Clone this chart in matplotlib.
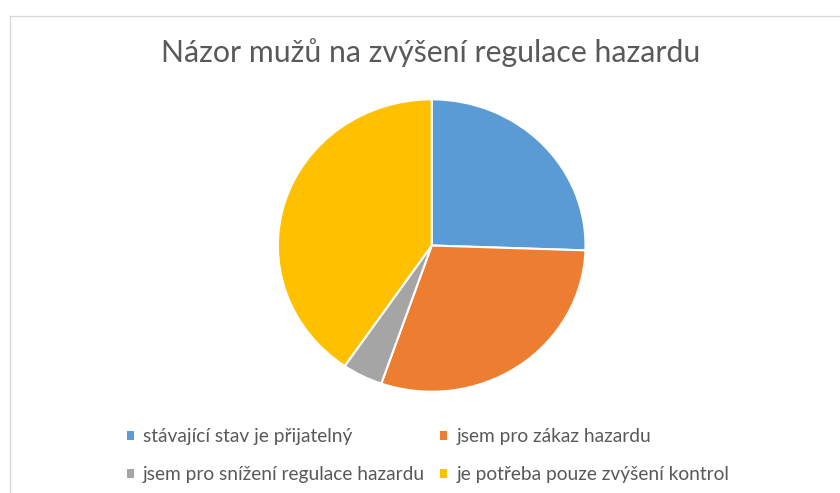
import matplotlib
matplotlib.use('Agg')
import matplotlib.pyplot as plt
from matplotlib.lines import Line2D
from matplotlib.patches import Patch

# data
labels = ['stávající stav je přijatelný', 'jsem pro zákaz hazardu',
          'jsem pro snížení regulace hazardu', 'je potřeba pouze zvýšení kontrol']
values = [12, 14, 2, 19]
colors = ['#5B9BD5', '#ED7D31', '#A5A5A5', '#FFC000']
title = 'Názor mužů na zvýšení regulace hazardu'

plt.rcParams['font.family'] = ['Lato', 'DejaVu Sans']

W, H = 840, 493
fig = plt.figure(figsize=(W / 100, H / 100), dpi=100)

# pie area (slightly wider than tall, like the original)
ax = fig.add_axes([277.9 / W, (H - 391.7) / H, 307.6 / W, 292.4 / H])
wedges, _ = ax.pie(values, colors=colors, startangle=90, counterclock=False,
                   wedgeprops=dict(edgecolor='white', linewidth=1.5))
ax.set_aspect('auto')
ax.set_xlim(-1, 1)
ax.set_ylim(-1, 1)
ax.axis('off')

# title
fig.text(430.5 / W, 1 - 53 / H, title, ha='center', va='center',
         fontsize=21.8, color='#595959')

# chart border (top and left only visible)
fig.add_artist(Line2D([9.5 / W, 1], [1 - 15.5 / H] * 2, color='#D9D9D9', lw=1))
fig.add_artist(Line2D([9.5 / W] * 2, [0, 1 - 15.5 / H], color='#D9D9D9', lw=1))

# legend: row-wise order in 2 columns
order = [0, 2, 1, 3]
handles = [Patch(facecolor=colors[i], edgecolor='none') for i in order]
fig.legend(handles, [labels[i] for i in order], ncol=2,
           loc='upper left', bbox_to_anchor=(127 / W, 1 - 428 / H),
           frameon=False, fontsize=13.8, labelcolor='#595959',
           handlelength=0.36, handleheight=0.36, handletextpad=0.47,
           columnspacing=0.8, labelspacing=1.1, borderpad=0, borderaxespad=0)

fig.savefig('out.png', dpi=100, facecolor='white')
